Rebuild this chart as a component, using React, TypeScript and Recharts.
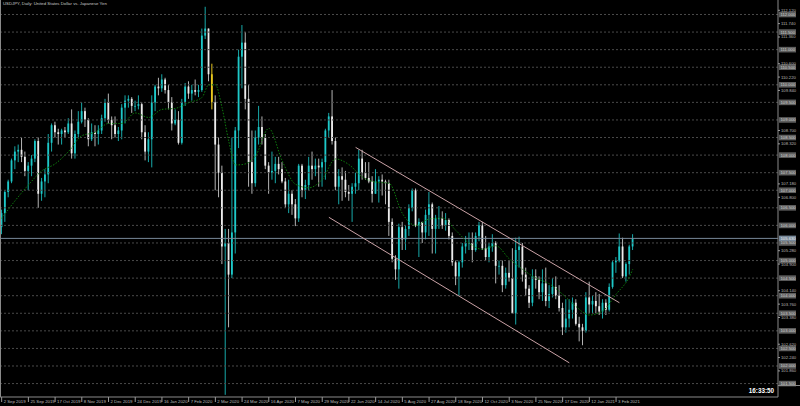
import React from 'react';
import { ComposedChart, Bar, Line, XAxis, YAxis, ReferenceLine } from 'recharts';

// USDJPY daily, drawn as 2-day candles (Sep 2019 - Feb 2021)
const firstOpen = 105.95;

const closes = [
  106.35, 106.95, 107.25, 107.85, 108.1, 108.15, 107.95, 107.55,
  107.7, 107.9, 108.4, 106.9, 107.25, 107.45, 108.35, 108.85,
  108.65, 108.6, 108.7, 108.65, 108.9, 108.05, 108.6, 108.95,
  109.25, 109.0, 108.45, 108.65, 108.6, 108.7, 109.05, 109.5,
  109.0, 108.85, 108.6, 108.7, 109.35, 109.55, 109.6, 109.4,
  109.4, 109.45, 108.65, 108.1, 108.45, 109.5, 109.95, 109.9,
  110.15, 109.85, 109.5, 108.9, 109.0, 108.35, 109.5, 109.95,
  109.75, 109.85, 109.8, 109.85, 111.4, 111.6, 110.3, 109.5,
  108.3, 107.5, 105.4, 105.5, 104.6, 105.8, 108.7, 110.8,
  111.2, 109.6, 107.8, 107.2, 108.5, 108.8, 108.5, 107.7,
  107.5, 107.55, 107.75, 107.6, 107.25, 106.6, 106.9, 106.6,
  106.2, 107.7, 107.0, 107.15, 107.7, 107.6, 107.7, 107.65,
  107.8, 108.7, 109.1, 108.4, 107.1, 107.4, 107.3, 106.95,
  106.9, 107.1, 107.2, 107.9, 107.5, 107.35, 107.25, 106.9,
  107.25, 107.3, 107.25, 107.2, 106.1, 105.05, 104.75, 105.95,
  105.6, 105.9, 106.5, 107.0, 106.0, 106.1, 105.8, 106.3,
  106.6, 105.9, 106.2, 106.2, 106.0, 106.15, 105.7, 104.95,
  104.55, 104.95, 105.4, 105.5, 105.5, 105.3, 105.7, 106.0,
  105.35, 105.1, 105.4, 105.5, 104.85, 104.85, 104.3, 104.65,
  104.5, 103.5, 105.3, 105.4, 104.6, 104.2, 103.8, 104.55,
  104.45, 104.1, 104.35, 103.85, 104.05, 104.25, 104.0, 103.65,
  103.1, 103.35, 103.6, 103.8, 103.2, 103.1, 103.0, 103.95,
  103.75, 103.85, 103.7, 103.55, 103.8, 103.6, 104.25, 104.95,
  105.0, 105.4, 104.55, 104.9, 105.4, 105.63,
];

const highs = [
  106.45, 107.0, 107.3, 107.9, 108.25, 108.3, 108.5, 108.1,
  107.8, 108.0, 108.45, 108.5, 107.35, 107.6, 108.6, 108.9,
  108.95, 108.75, 108.75, 108.8, 109.05, 109.3, 108.7, 109.25,
  109.5, 109.35, 109.05, 108.9, 108.85, 108.85, 109.15, 109.6,
  109.75, 109.1, 109.1, 108.8, 109.45, 109.7, 109.7, 109.65,
  109.55, 109.7, 109.5, 108.85, 108.65, 109.7, 110.0, 110.2,
  110.3, 110.2, 110.0, 109.65, 109.3, 109.25, 109.6, 110.05,
  110.1, 110.0, 110.15, 110.0, 111.6, 112.22, 111.6, 110.6,
  109.7, 108.5, 107.7, 105.9, 105.9, 108.5, 108.8, 111.0,
  111.7, 111.5, 110.0, 108.7, 108.7, 109.4, 109.1, 108.6,
  107.8, 108.1, 107.95, 107.95, 107.8, 107.35, 107.3, 107.0,
  106.75, 107.75, 107.75, 107.3, 107.95, 108.1, 107.9, 107.9,
  107.9, 108.75, 109.2, 109.85, 108.5, 107.6, 107.65, 107.55,
  107.15, 107.2, 107.5, 108.15, 108.15, 107.8, 107.8, 107.4,
  107.6, 107.4, 107.45, 107.3, 107.3, 106.2, 105.15, 106.05,
  106.1, 106.0, 106.6, 107.05, 107.05, 106.2, 106.1, 106.45,
  106.95, 106.65, 106.3, 106.55, 106.4, 106.35, 106.2, 105.8,
  105.0, 105.0, 105.5, 105.7, 105.8, 105.8, 105.8, 106.1,
  106.1, 105.7, 105.5, 105.75, 105.55, 105.0, 105.0, 104.8,
  105.0, 105.35, 105.65, 105.68, 105.5, 104.8, 104.3, 104.75,
  104.75, 104.55, 104.75, 104.8, 104.3, 104.5, 104.55, 104.3,
  103.8, 103.9, 103.9, 103.95, 103.9, 103.4, 103.2, 104.1,
  104.4, 104.0, 104.1, 104.05, 103.9, 103.9, 104.35, 105.0,
  105.1, 105.77, 105.65, 104.95, 105.45, 105.75,
];

const lows = [
  105.75, 106.1, 106.8, 107.2, 107.6, 107.8, 107.8, 107.4,
  107.0, 107.4, 107.8, 106.5, 106.7, 106.8, 107.2, 108.1,
  108.5, 108.3, 108.3, 108.5, 108.6, 107.9, 107.9, 108.5,
  108.9, 108.8, 108.25, 108.4, 108.25, 108.3, 108.6, 108.95,
  108.9, 108.45, 108.5, 108.4, 108.45, 108.9, 109.35, 109.2,
  109.25, 109.3, 108.45, 107.85, 107.8, 107.65, 109.25, 109.7,
  109.8, 109.75, 109.3, 108.7, 108.85, 108.3, 108.3, 109.4,
  109.6, 109.55, 109.7, 109.65, 109.8, 111.3, 110.1, 109.3,
  107.0, 106.8, 104.9, 101.18, 103.1, 104.5, 105.2, 108.2,
  109.9, 109.3, 107.1, 106.9, 107.1, 108.3, 108.3, 107.6,
  106.9, 107.3, 107.2, 107.45, 107.2, 106.5, 106.35, 106.3,
  105.98, 106.1, 106.8, 106.75, 107.0, 107.3, 107.4, 107.1,
  107.1, 107.3, 108.5, 108.3, 107.0, 106.6, 106.7, 106.8,
  106.7, 106.1, 106.9, 107.0, 107.3, 107.3, 107.2, 106.65,
  106.9, 106.65, 106.85, 106.6, 105.7, 104.95, 104.45, 104.2,
  105.3, 105.3, 105.7, 106.4, 105.95, 105.1, 105.5, 105.6,
  105.7, 105.2, 105.2, 105.9, 105.9, 105.85, 105.6, 104.85,
  104.3, 104.0, 104.8, 105.2, 105.3, 104.95, 105.25, 105.55,
  105.3, 105.0, 104.95, 105.25, 104.35, 104.6, 104.1, 104.2,
  104.4, 103.5, 103.18, 104.8, 104.4, 104.0, 103.65, 103.7,
  104.2, 103.9, 103.85, 103.7, 103.65, 103.95, 103.9, 103.55,
  102.88, 102.95, 103.1, 103.35, 103.15, 102.7, 102.59, 102.95,
  103.5, 103.5, 103.5, 103.45, 103.35, 103.45, 103.55, 104.2,
  104.65, 104.95, 104.5, 104.4, 104.6, 105.3,
];

// moving average: [bar, value]
const maPoints: [number, number][] = [
  [0, 106.2], [4, 106.7], [8, 107.15], [12, 107.55], [16, 107.75], [20, 108.1],
  [24, 108.55], [28, 108.65], [32, 108.9], [36, 108.9], [40, 109.2], [44, 109.07],
  [48, 109.3], [52, 109.33], [56, 109.49], [60, 109.64], [62, 110.0], [64, 110.0],
  [66, 109.35], [68, 108.4], [70, 107.72], [72, 107.73], [76, 107.97], [80, 108.76],
  [84, 107.84], [88, 107.17], [92, 107.07], [96, 107.31], [100, 107.89], [104, 107.73],
  [108, 107.38], [112, 107.23], [116, 107.2], [120, 106.34], [124, 106.0], [128, 106.18],
  [132, 106.21], [136, 105.86], [140, 105.49], [144, 105.32], [148, 105.42], [152, 105.05],
  [156, 104.75], [160, 104.5], [164, 104.34], [168, 104.04], [172, 103.69], [176, 103.45],
  [180, 103.57], [184, 104.04], [188, 104.54], [189, 104.75],
];

const highlightBars = [63];

const channelUpper: [number, number][] = [[106, 108.22], [185, 103.8]];
const channelLower: [number, number][] = [[98, 106.23], [170, 102.09]];

const xTickLabels = [
  '2 Sep 2019', '25 Sep 2019', '17 Oct 2019', '8 Nov 2019', '2 Dec 2019', '24 Dec 2019',
  '16 Jan 2020', '7 Feb 2020', '2 Mar 2020', '24 Mar 2020', '16 Apr 2020', '7 May 2020',
  '29 May 2020', '22 Jun 2020', '14 Jul 2020', '5 Aug 2020', '27 Aug 2020', '18 Sep 2020',
  '12 Oct 2020', '3 Nov 2020', '25 Nov 2020', '17 Dec 2020', '12 Jan 2021', '3 Feb 2021',
];
const barsPerLabel = 8;

// scale labels that are not hidden under the level boxes
const yTickValues = [
  112.12, 111.74, 111.36, 110.6, 110.22, 109.84, 108.7,
  108.32, 107.18, 106.8, 105.28, 104.9,
  104.14, 103.76, 103.38, 102.62, 102.24, 101.86,
];

const gridLevels = [
  112.0, 111.5, 111.0, 110.5, 110.0, 109.5, 109.0, 108.5, 108.0, 107.5, 107.0,
  106.5, 106.0, 105.5, 105.0, 104.5, 104.0, 103.5, 103.0, 102.5, 102.0, 101.5,
];

const W = 800;
const H = 406;
const SLOTS = 233;
const PRICE_MIN = 101.118;
const PRICE_MAX = 112.4125;
const FONT = 'Liberation Sans, Arial, sans-serif';

const maMap = new Map(maPoints);
const data = Array.from({ length: SLOTS }, (_, i) => {
  if (i >= closes.length) return { i };
  const open = i === 0 ? firstOpen : closes[i - 1];
  return {
    i,
    open,
    high: highs[i],
    low: lows[i],
    close: closes[i],
    range: [lows[i], highs[i]],
    ma: maMap.get(i),
    hl: highlightBars.includes(i),
  };
});

const xTicks = xTickLabels.map((_, k) => k * barsPerLabel);
const lastPrice = closes[closes.length - 1];

const Candle = (props: any) => {
  const p = props.payload || {};
  if (p.high == null) return null;
  const top = Math.min(props.y, props.y + props.height);
  const h = Math.abs(props.height);
  const span = p.high - p.low || 1;
  const toY = (v: number) => top + ((p.high - v) / span) * h;
  const cx = props.x + props.width / 2;
  const up = p.close >= p.open;
  const bodyTop = toY(Math.max(p.open, p.close));
  const bodyBot = toY(Math.min(p.open, p.close));
  const bw = Math.max(1, props.width * 0.6);
  const body = p.hl ? '#e8c81e' : up ? '#1ec8c8' : '#ececec';
  const wick = p.hl ? '#e8c81e' : up ? '#17a9a9' : '#b4b4b4';
  return (
    <g>
      <line x1={cx} x2={cx} y1={top} y2={top + h} stroke={wick} strokeWidth={1} />
      <rect x={cx - bw / 2} y={bodyTop} width={bw} height={Math.max(bodyBot - bodyTop, 0.8)} fill={body} />
    </g>
  );
};

const DateTick = ({ x, y, payload }: any) => (
  <g>
    <line x1={x} x2={x} y1={y} y2={y + 5} stroke="#9a9a9a" />
    <text x={x + 2} y={y + 6} fontSize={4.3} fill="#bcbcbc" fontFamily={FONT}>
      {xTickLabels[payload.value / barsPerLabel]}
    </text>
  </g>
);

const PriceTick = ({ x, y, payload }: any) => (
  <g>
    <line x1={x} x2={x + 2} y1={y} y2={y} stroke="#9a9a9a" />
    <text x={x + 3} y={y + 1.5} fontSize={4.2} fill="#b8b8b8" fontFamily={FONT}>
      {Number(payload.value).toFixed(3)}
    </text>
  </g>
);

const boxLabel = (value: number, fill: string, color: string) => (props: any) => {
  const vb = props.viewBox || {};
  const x = vb.x + vb.width + 1;
  const y = vb.y;
  return (
    <g>
      <rect x={x} y={y - 2.8} width={17} height={5.6} fill={fill} />
      <text x={x + 1.5} y={y + 1.5} fontSize={4.2} fill={color} fontFamily={FONT}>
        {value.toFixed(3)}
      </text>
    </g>
  );
};

export default function App() {
  return (
    <div style={{ position: 'fixed', left: 0, top: 0, width: W, height: H, background: '#000', overflow: 'hidden' }}>
      <ComposedChart
        width={W}
        height={H}
        data={data}
        margin={{ top: 0, right: 0, bottom: 0, left: 0 }}
        barCategoryGap={0}
        barGap={0}
      >
        <XAxis
          dataKey="i"
          type="category"
          ticks={xTicks}
          interval={0}
          height={9}
          tickLine={false}
          tickSize={0}
          tickMargin={0}
          axisLine={{ stroke: '#8a8a8a' }}
          tick={<DateTick />}
        />
        <YAxis
          orientation="right"
          width={22}
          domain={[PRICE_MIN, PRICE_MAX]}
          allowDataOverflow
          ticks={yTickValues}
          interval={0}
          tickLine={false}
          tickSize={0}
          tickMargin={0}
          axisLine={{ stroke: '#8a8a8a' }}
          tick={<PriceTick />}
        />
        {gridLevels.map((g) => (
          <ReferenceLine
            key={g}
            y={g}
            stroke="#4a4a4a"
            strokeDasharray="2 2"
            label={boxLabel(g, '#5e5e5e', '#d2d2d2')}
          />
        ))}
        <ReferenceLine y={lastPrice} stroke="#778899" label={boxLabel(lastPrice, '#778899', '#f0f0f0')} />
        <Bar dataKey="range" shape={<Candle />} isAnimationActive={false} />
        <Line
          dataKey="ma"
          type="monotone"
          stroke="#0d7d0d"
          strokeWidth={1}
          strokeDasharray="1.5 1.5"
          dot={false}
          connectNulls
          isAnimationActive={false}
        />
        <ReferenceLine
          segment={[{ x: channelUpper[0][0], y: channelUpper[0][1] }, { x: channelUpper[1][0], y: channelUpper[1][1] }]}
          stroke="#caa2a6"
          ifOverflow="visible"
        />
        <ReferenceLine
          segment={[{ x: channelLower[0][0], y: channelLower[0][1] }, { x: channelLower[1][0], y: channelLower[1][1] }]}
          stroke="#caa2a6"
          ifOverflow="visible"
        />
      </ComposedChart>
      <div style={{ position: 'absolute', left: 0, top: 0, width: 1, height: 397, background: '#8a8a8a' }} />
      <div style={{ position: 'absolute', left: 778, top: 385, width: 22, height: 1, background: '#8a8a8a' }} />
      <div
        style={{
          position: 'absolute', left: 3, top: 2, fontSize: 4.3, color: '#c8c8c8',
          fontFamily: FONT, whiteSpace: 'nowrap', lineHeight: 1,
        }}
      >
        USDJPY, Daily:  United States Dollar vs. Japanese Yen
      </div>
      <div
        style={{
          position: 'absolute', right: 26, top: 388, fontSize: 6.3, fontWeight: 'bold', color: '#ffffff',
          fontFamily: FONT, whiteSpace: 'nowrap', lineHeight: 1,
        }}
      >
        16:33:50
      </div>
    </div>
  );
}
